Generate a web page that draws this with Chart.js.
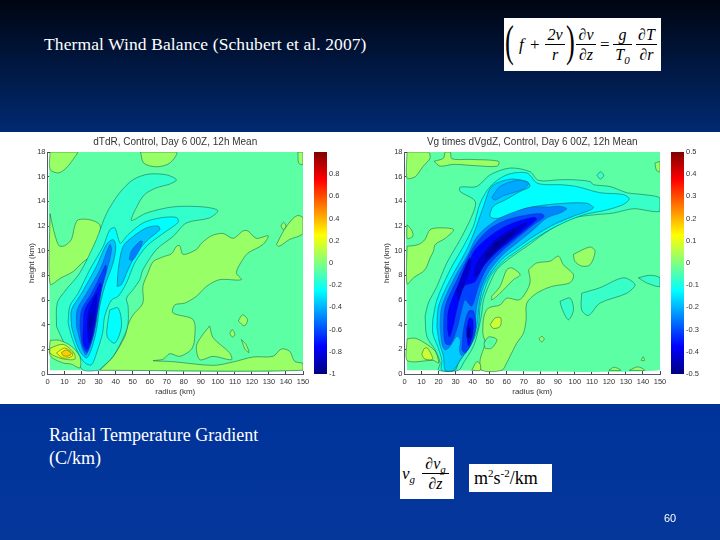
<!DOCTYPE html>
<html>
<head>
<meta charset="utf-8">
<script src="https://cdn.jsdelivr.net/npm/chart.js@4"></script>
<style>
html, body { margin: 0; padding: 0; }
body { width: 720px; height: 540px; position: relative; overflow: hidden;
  background: linear-gradient(#000511 0, #012a72 132px, #00339a 404px, #05379b 540px);
  font-family: "Liberation Serif", serif; color: #fff; }
.band { position: absolute; left: 0; top: 132px; width: 720px; height: 272px; background: #fff; }
canvas { position: absolute; }
.t { position: absolute; white-space: nowrap; font-size: 17.5px; line-height: 23px; }
.box { position: absolute; background: #fff; color: #000; overflow: hidden; }
.box span, .box div { position: absolute; white-space: nowrap; }
.frac { text-align: center; font-size: 16px; font-style: italic; line-height: 17px; }
.frac i { display: block; position: static; height: 1px; background: #000; margin: 1px 0; }
sub, sup { font-size: 11px; line-height: 0; }
</style>
</head>
<body>
<div class="band"></div>
<canvas id="leftMap" width="360" height="272" style="left:0;top:132px"></canvas>
<canvas id="leftBar" width="50" height="272" style="left:314px;top:132px"></canvas>
<canvas id="rightMap" width="360" height="272" style="left:360px;top:132px"></canvas>
<canvas id="rightBar" width="49" height="272" style="left:671px;top:132px"></canvas>

<div class="t" style="left:44px;top:33px;letter-spacing:.1px">Thermal Wind Balance (Schubert et al. 2007)</div>
<div class="t" style="left:49px;top:424px;font-size:18px">Radial Temperature Gradient<br>(C/km)</div>
<div class="t" style="left:664px;top:508px;font:11px 'Liberation Sans',sans-serif;line-height:20px">60</div>

<div class="box" style="left:504px;top:18px;width:157px;height:53px">
  <span style="left:1px;top:-1px;font-size:44px;line-height:50px;transform:scaleX(.6);transform-origin:left">(</span>
  <span style="left:15px;top:17px;font:italic 17px 'Liberation Serif'">f</span>
  <span style="left:26px;top:17px;font-size:17px">+</span>
  <div class="frac" style="left:41px;top:8px;width:20px">2<span style="position:static">v</span><i></i><span style="position:static">r</span></div>
  <span style="left:62px;top:-1px;font-size:44px;line-height:50px;transform:scaleX(.6);transform-origin:left">)</span>
  <div class="frac" style="left:72px;top:8px;width:20px">∂v<i></i>∂z</div>
  <span style="left:96px;top:17px;font-size:17px">=</span>
  <div class="frac" style="left:109px;top:8px;width:19px">g<i></i>T<sub>0</sub></div>
  <div class="frac" style="left:132px;top:8px;width:21px">∂T<i></i>∂r</div>
</div>

<div class="box" style="left:400px;top:447px;width:54px;height:52px">
  <span style="left:2px;top:17px;font:italic 17px 'Liberation Serif'">v<sub>g</sub></span>
  <div class="frac" style="left:22px;top:8px;width:27px">∂v<sub>g</sub><i></i>∂z</div>
</div>
<div class="box" style="left:469px;top:464px;width:83px;height:28px">
  <span style="left:5px;top:3px;font-size:18px;line-height:23px">m<sup>2</sup>s<sup>-2</sup>/km</span>
</div>

<script>
// axes
const radiusTicks = [0, 10, 20, 30, 40, 50, 60, 70, 80, 90, 100, 110, 120, 130, 140, 150];
const heightTicks = [0, 2, 4, 6, 8, 10, 12, 14, 16, 18];
const dataBox = [[1.5, 0.3], [150, 0.3], [150, 18], [1.5, 18]];

// left panel, dTdR: value of each filled contour, and its outline as [radius, height]
const leftLevels = [-0.07, 0.05, 0.05, 0.05, 0.05, 0.05, 0.05, 0.05, 0.05, 0.05, 0.05, 0.05,
  -0.15, -0.25, -0.25, -0.37, -0.37, -0.5, -0.5, -0.62, -0.72, -0.82, -0.9,
  0.05, 0.15, 0.25, 0.35];
const leftContours = [
  dataBox,
  [[1.5, 18], [17.4, 18], [15, 17.4], [11, 16.7], [6.3, 16.3], [1.5, 16.6]],
  [[54.6, 18], [56.5, 17.1], [64, 16.8], [71.8, 17.1], [75.7, 18]],
  [[147, 18], [147.5, 17.1], [150, 17], [150, 18]],
  [[1.5, 13], [3, 12], [4.5, 11.2], [6.8, 10.4], [10, 10.4], [14, 10.9], [16, 12], [18, 12.5], [25, 12.5], [30.7, 12.1], [30.5, 11.2], [27.8, 9.8], [21, 9.1], [15, 8.3], [8, 7.8], [1.5, 7.3]],
  [[30.7, 0.3], [38.5, 1.4], [45.4, 3.05], [47.3, 4], [50.3, 4.8], [56, 5.75], [56, 7.1], [59, 8.2], [62, 9.1], [67.9, 9.5], [72.8, 9.75], [75.7, 10.35], [77.6, 10.4], [79.6, 9.7], [87.4, 10.1], [90.4, 10.6], [96.2, 11.2], [103, 11.4], [109, 11], [114.8, 11.6], [117.7, 11.6], [122.6, 11], [129.5, 11.2], [126.5, 10.5], [117.7, 9.8], [113.8, 9.1], [110.9, 8.2], [113.8, 7.65], [101, 7.65], [93.3, 7.1], [87.4, 6.3], [80.6, 5.75], [74.7, 5.6], [73.7, 4.95], [85.5, 4.4], [86.4, 2.9], [84.5, 2], [77.6, 1.43], [71.8, 1.65], [67.9, 1.2], [62, 1.08], [73.7, 1], [97.2, 0.7], [108.9, 0.97], [120.7, 1.38], [132.4, 1.43], [137.3, 2.03], [142.2, 1.84], [145.1, 1.03], [150, 0.84], [150, 0.3]],
  [[95.2, 3.9], [90.4, 3.05], [87.4, 2.25], [89.4, 1.16], [97.2, 1.43], [108, 1.16], [107, 1.7], [97.2, 2.95]],
  [[112, 4.3], [114.5, 4.8], [117.5, 4.4], [115.5, 3.9]],
  [[107, 3.3], [108.5, 3.6], [110, 3.2], [108.5, 3]],
  [[113.8, 2.8], [116.5, 2.4], [118.3, 1.75], [116, 2]],
  [[134.4, 10.5], [139, 11.7], [144, 12.6], [147, 12.85], [150, 12.65], [150, 11.4], [142, 10.9], [136, 10.35]],
  [[137, 12], [138.5, 12.3], [140, 12], [138.5, 11.7]],
  [[5.3, 3.85], [5.7, 5.75], [11, 6.85], [19, 8.2], [28.7, 10.9], [34.6, 13], [42.4, 14.7], [50.2, 15.75], [59, 16.2], [69.8, 16.15], [75.7, 15.75], [71.8, 15.4], [64, 15.1], [57, 14.55], [52, 13.45], [49.3, 12.45], [58, 13.05], [73.7, 13.55], [91.3, 13.55], [100, 13.25], [95, 12.65], [81.6, 12.25], [73.7, 11.15], [64, 10.1], [56, 8.45], [54.2, 7.65], [50.3, 6.85], [46.4, 6.15], [47.3, 5.5], [47.3, 4.1], [45.4, 3.2], [38.5, 1.43], [31.7, 0.5], [29.7, 0.3], [21, 0.3], [18, 0.9], [15, 1.43], [10.2, 2.4]],
  [[12.1, 4.15], [13.1, 5.5], [18, 6.55], [24.8, 8.45], [32.7, 10.35], [36.6, 11.7], [39.5, 11.85], [41.5, 11], [42.8, 10.6], [47.3, 11.3], [56.1, 12.25], [65.9, 12.65], [75.7, 12.7], [76.7, 12.3], [67.9, 11.4], [58.1, 10.35], [51.2, 9], [46.4, 7.4], [41.5, 6.3], [37.6, 6], [33.6, 4.7], [32.3, 3.3], [28.8, 1.7], [25.8, 0.75], [21.9, 0.9], [18, 1.7], [14.1, 3.05]],
  [[36.6, 5.2], [41.5, 5.35], [43.4, 3.85], [39.5, 2.5], [35, 3.05], [35.6, 4.4]],
  [[14.1, 3.85], [14.1, 5.2], [20, 6.55], [28.8, 8.75], [34.6, 10.5], [38.5, 10.9], [40.1, 10.35], [38.5, 9], [33.6, 7.1], [30.7, 5.5], [28.8, 3.6], [25.8, 2], [22.9, 1.3], [19, 1.85], [16, 2.9]],
  [[40.9, 7.1], [41.5, 8.45], [44.4, 10.35], [50.3, 11.15], [58.1, 11.85], [64.9, 12], [65.9, 11.7], [59.1, 10.9], [52.2, 9.8], [47.3, 8.45], [43.4, 7.25]],
  [[17, 3.85], [17.4, 5.2], [22.9, 6.55], [30.7, 8.45], [36.6, 10.5], [37.6, 10.1], [35.6, 8.75], [31.7, 6.85], [29.7, 5.2], [27.8, 3.6], [24.8, 2.25], [22.5, 1.55], [20, 2.25]],
  [[47.9, 9.3], [49.3, 10], [54.2, 10.75], [55.7, 10.75], [54.2, 10.1], [49.9, 9.2]],
  [[19, 3.85], [20, 5.2], [25.8, 6.55], [32.7, 8.45], [34.2, 8.85], [34.6, 8.45], [31.7, 6.85], [28.8, 4.7], [26.8, 3.05], [23.3, 1.75], [20.5, 2.25]],
  [[20.9, 3.6], [21.9, 5.2], [27.8, 6.55], [30.7, 7.4], [31.7, 7.25], [29.7, 5.5], [26.8, 3.3], [23.3, 1.95], [20.9, 2.5]],
  [[23.3, 3.05], [23.9, 4.95], [28.8, 6.55], [29.1, 6], [27.8, 4.4], [24.8, 2.5]],
  [[23.9, 3.6], [24.8, 4.7], [26.4, 4.95], [25.8, 3.85]],
  [[1.5, 2.73], [7, 2.73], [14, 2.25], [19, 1.4], [19, 0.5], [14, 0.8], [9, 0.9], [1.5, 1.5]],
  [[1.5, 2.1], [9.2, 2.4], [15.5, 1.7], [16, 1.2], [10, 1.2], [4.3, 1.45], [1.5, 1.7]],
  [[5.3, 1.7], [10, 2.1], [14.7, 1.7], [14.1, 1.4], [9.2, 1.3]],
  [[8.2, 1.75], [11, 1.95], [14, 1.65], [12, 1.45], [9, 1.5]]
];

// right panel, Vg times dVgdZ
const rightLevels = [-0.035, 0.025, 0.025, 0.025, 0.025, 0.025, 0.025, 0.025, 0.025, 0.025, 0.075, -0.035, 0.025, 0.025, 0.075, 0.025, 0.025, 0.04,
  -0.07, -0.07, -0.07, -0.07, -0.07, -0.125, -0.175, -0.245, -0.21, -0.31, -0.31, -0.37, -0.37, -0.42, -0.42, -0.46, -0.49, -0.46];
const rightContours = [
  dataBox,
  [[1.5, 18], [14, 18], [15, 17.5], [11, 16.85], [6.3, 16], [1.5, 15.9]],
  [[17.4, 17.25], [22.9, 17.5], [23.9, 18], [26.8, 18], [27.8, 17.45], [38.5, 17.4], [55.2, 17.25], [54.5, 16.85], [40.5, 16.9], [28.8, 17], [20.9, 16.85]],
  [[147, 17.1], [150, 17.2], [150, 16.4], [148, 16.5]],
  [[1.5, 12.1], [4, 11.7], [5, 11.2], [3, 11], [1.5, 11]],
  [[1.5, 10.35], [8.2, 10.5], [12, 10.9], [15, 11.7], [20.9, 11.85], [28.8, 11.7], [23.9, 11], [18, 10.5], [17, 9.95], [15, 9.4], [12, 8.45], [5.3, 7.8], [1.5, 7.3]],
  [[99.2, 9.7], [108.9, 10.3], [111.9, 9.95], [108.9, 8.85], [104, 8.75], [100, 9.15]],
  [[72.8, 8.45], [77.6, 9], [85.5, 9.15], [90.4, 9.55], [93.3, 8.85], [99.2, 8.05], [97.2, 7.4], [86.4, 7.1], [77.6, 6.55], [71.8, 5.75], [71.4, 4.4], [69.8, 3.3], [65.9, 2.5], [62, 1.45], [60, 0.9], [57.1, 0.3], [45.4, 0.3], [44.4, 1.15], [47.3, 2.5], [46, 3.3], [46.7, 4.7], [49.3, 5.35], [56.1, 5.6], [60, 6.15], [66.9, 6], [69.8, 6.3], [73.7, 7.4]],
  [[51.2, 6.3], [56.1, 7.1], [60, 8.45], [63, 8.6], [67.9, 8.05], [64, 7.65], [56.1, 6.55], [51.2, 6]],
  [[79, 2.85], [80.5, 3.05], [82, 2.85], [80.5, 2.6]],
  [[50.3, 4], [53.2, 4.55], [56.5, 4.55], [56.1, 3.85], [52.2, 3.7]],
  [[46.7, 2.5], [49.3, 3], [54.2, 2.8], [51.2, 2.1], [47.3, 2.1]],
  [[1.5, 2.85], [6.3, 2.9], [12, 2.5], [18, 1.85], [20, 0.9], [17, 1.1], [1.5, 1.1]],
  [[120, 0.3], [123, 0.55], [127, 0.3]],
  [[10.2, 1.6], [11.5, 2.05], [13.5, 2.1], [16, 1.5], [16.6, 1.2], [14, 1.15], [11.5, 1.25]],
  [[132, 0.3], [137, 0.58], [141, 0.3]],
  [[139, 1.1], [140, 1.4], [141, 1.1]],
  [[39.5, 0.3], [42.4, 1], [44.4, 0.8], [44.4, 0.3]],
  [[12.1, 4.7], [14, 5.75], [19, 7.1], [24.8, 9], [32.7, 10.9], [39.5, 12.8], [41.5, 14], [32.7, 14.8], [32.7, 15.15], [42.4, 15.2], [50.3, 16.15], [62, 16.7], [73.7, 16.4], [78.6, 15.7], [91.3, 15.75], [99.2, 15.75], [109, 15.6], [110.9, 15.35], [120.7, 15.2], [130.5, 14.7], [140, 14.55], [150, 14.25], [150, 13.2], [134.4, 13.4], [122.6, 13.05], [110.9, 12.9], [99.2, 12.65], [85.5, 11.7], [71.8, 10.35], [62, 9.4], [54.2, 8.45], [49.3, 7.1], [46.4, 6], [45.4, 4.95], [43.4, 3.6], [40.5, 2.25], [34.6, 0.9], [31.7, 0.3], [20, 0.3], [20.9, 0.9], [18, 1.95], [13.1, 3.05]],
  [[104, 6.55], [114.8, 7], [128.5, 7.8], [135.3, 7.25], [130.5, 6.55], [114.8, 5.75], [108, 4.75], [104, 5.2]],
  [[91.3, 5.9], [97.2, 6.15], [99.2, 5.2], [96.2, 4.4], [92.3, 5.35]],
  [[137.3, 7.8], [144, 8], [150, 7.8], [150, 7.1], [142, 7.4]],
  [[113, 16.1], [115, 16.4], [117, 16.1], [115, 15.8]],
  [[16.6, 4.4], [19, 6], [26.8, 8.45], [34.6, 10.35], [40.5, 12], [44.4, 13.85], [50.3, 15.2], [60, 16.15], [71.8, 16.3], [77.6, 15.5], [83.5, 15.35], [91.3, 15.35], [101, 15.2], [114.8, 14.7], [128.5, 14.55], [132, 14.2], [128.5, 13.75], [118.7, 13.3], [105, 12.9], [89.4, 12], [75.7, 10.9], [65.9, 9.95], [58, 9.15], [50.3, 7.9], [46.4, 6.55], [44.4, 5.5], [43.4, 3.85], [39.5, 2.5], [31.7, 0.9], [29.7, 0.3], [21.9, 0.3], [21.9, 1.15], [19.4, 2.25], [16.6, 3.3]],
  [[19, 3.85], [20, 5.5], [26.8, 7.65], [36.6, 10.1], [41.5, 11.7], [46.4, 13.6], [51.2, 15.2], [62, 15.8], [71.8, 15.6], [73.7, 15.2], [67.9, 14.8], [59, 14.1], [52.2, 13.6], [50.3, 12.75], [56, 12.65], [71.6, 13.45], [89.4, 13.8], [107, 13.85], [110.9, 13.45], [99.2, 12.8], [87.4, 12.1], [75.7, 11.15], [65.9, 10.2], [58, 9.4], [51.2, 8.3], [46.4, 7.1], [44, 5.75], [42.4, 3.85], [38.5, 2.25], [32.7, 1.15], [28.8, 0.3], [23.9, 0.3], [22.9, 1.45], [20.5, 2.5]],
  [[20.9, 3.85], [21.9, 5.5], [29.7, 7.9], [37.6, 9.8], [41.5, 10.9], [46.4, 11.7], [56, 12.65], [67.9, 13.3], [75.7, 13.55], [85.5, 13.55], [91.3, 13.6], [95.2, 13.4], [91.3, 13.05], [83.5, 12.65], [75.7, 11.7], [65.9, 10.6], [58, 9.7], [50.3, 8.45], [45.4, 7.1], [42.4, 5.5], [40.9, 3.6], [36.6, 1.95], [33.5, 1.5], [32.3, 1.95], [32.7, 2.8], [30.7, 3.05], [26.8, 2.25], [23.9, 1.95], [21.9, 2.5]],
  [[51.2, 14.3], [56, 15.2], [66, 15.7], [72.8, 15.5], [70, 15], [58, 14.45], [53, 14.1]],
  [[22.9, 3.6], [23.9, 5.5], [31.7, 7.9], [37.6, 9.55], [41.5, 10.5], [49.3, 11.7], [60, 12.5], [71.8, 12.9], [80.6, 13], [82, 12.75], [75.7, 12.1], [65.9, 11], [56, 9.8], [48.3, 8.6], [43.4, 7.1], [39.5, 5.5], [35.6, 6], [33.6, 5.2], [30.7, 3.6], [26.8, 2.4], [23.9, 2.5]],
  [[33.6, 1.95], [34.6, 3.6], [37.6, 5.1], [40.5, 5.1], [42, 3.85], [39.5, 2.5], [35.6, 1.7]],
  [[25.2, 3.6], [25.8, 5.2], [32.7, 7.65], [37.6, 9], [41.5, 10.1], [52.2, 11.4], [62, 12.15], [75.7, 12.7], [77.6, 12.55], [67.9, 11.4], [56, 10.1], [46.4, 8.75], [41.5, 7.5], [35, 7.1], [30.7, 5.2], [28.8, 4], [26.4, 3]],
  [[36.2, 3.6], [38.1, 4.55], [40.1, 4.4], [40.1, 3.3], [37.6, 2.25]],
  [[40.5, 7.9], [42.4, 9], [52.2, 10.75], [62, 11.7], [71.8, 12.25], [69.8, 11.85], [58, 10.5], [48.3, 9.15], [42.4, 7.9]],
  [[30.7, 6.85], [35.6, 8.7], [38.5, 9.4], [38.5, 8.45], [34.6, 7.1], [31.7, 6]],
  [[47.3, 9.7], [56, 10.9], [65, 11.7], [64, 11.3], [54.2, 10.1], [48.3, 9.3]],
  [[51.2, 10.5], [55.2, 10.75], [54.2, 10.35]],
  [[36.5, 3], [37.5, 3.8], [38.8, 3.7], [38.3, 2.9]]
];

const leftTicks = [-1, -0.8, -0.6, -0.4, -0.2, 0, 0.2, 0.4, 0.6, 0.8];
const rightTicks = [-0.5, -0.4, -0.3, -0.2, -0.1, 0, 0.1, 0.2, 0.3, 0.4, 0.5];

const jetStops = [[0, 0, 0, 128], [0.125, 0, 0, 255], [0.375, 0, 255, 255], [0.5, 128, 255, 128], [0.625, 255, 255, 0], [0.875, 255, 0, 0], [1, 128, 0, 0]];
function jet(t) {
  for (let i = 1; i < jetStops.length; i++) {
    const a = jetStops[i - 1], b = jetStops[i];
    if (t <= b[0]) {
      const k = (t - a[0]) / (b[0] - a[0]);
      return 'rgb(' + [1, 2, 3].map(j => Math.round(a[j] + (b[j] - a[j]) * k)).join(',') + ')';
    }
  }
  return 'rgb(128,0,0)';
}

const axisInk = '#333';
const sans = 'Liberation Sans';

// lines go faint in the deep core, as in the blurred original
function lineInk(t) {
  return t < 0.3 ? 'rgba(0,30,90,.45)' : 'rgba(20,85,70,.85)';
}

function mapChart(id, title, levels, contours, range, yTitleLeft, yWidth) {
  const n = contours.length;
  const datasets = contours.map((pts, i) => {
    const t = levels[i] / range / 2 + 0.5;
    return {
      data: pts.concat([pts[0]]).map(p => ({ x: p[0], y: p[1] })),
      showLine: true,
      fill: 'shape',
      backgroundColor: jet(t),
      borderColor: i === 0 ? 'transparent' : lineInk(t),
      borderWidth: 0.6,
      pointRadius: 0,
      tension: 0.3,
      order: n - i
    };
  });
  new Chart(document.getElementById(id), {
    type: 'scatter',
    data: { datasets },
    options: {
      responsive: false,
      animation: false,
      events: [],
      layout: { padding: { right: 360 - yTitleLeft - yWidth - 255.5, top: 0, bottom: 7, left: yTitleLeft } },
      plugins: {
        legend: { display: false },
        tooltip: { enabled: false },
        title: { display: true, text: title, fullSize: false, color: axisInk, font: { family: sans, size: 10, weight: 'normal' }, padding: { top: 4, bottom: 4 } }
      },
      scales: {
        x: {
          type: 'linear', min: 0, max: 150,
          afterBuildTicks: s => { s.ticks = radiusTicks.map(v => ({ value: v })); },
          afterFit: s => { s.height = 23; },
          grid: { drawOnChartArea: false, tickLength: -3, color: '#445' },
          border: { color: '#556' },
          ticks: { autoSkip: false, maxRotation: 0, padding: 6, color: axisInk, font: { family: sans, size: 7.5 } },
          title: { display: true, text: 'radius (km)', color: axisInk, padding: 0, font: { family: sans, size: 8 } }
        },
        y: {
          type: 'linear', min: 0, max: 18,
          afterBuildTicks: s => { s.ticks = heightTicks.map(v => ({ value: v })); },
          afterFit: s => { s.width = yWidth; },
          grid: { drawOnChartArea: false, tickLength: -3, color: '#445' },
          border: { color: '#556' },
          ticks: { autoSkip: false, padding: 5, color: axisInk, font: { family: sans, size: 7.5 } },
          title: { display: true, text: 'height (km)', color: axisInk, padding: 0, font: { family: sans, size: 8 } }
        }
      }
    }
  });
}

function barChart(id, ticks, range) {
  new Chart(document.getElementById(id), {
    type: 'bar',
    data: {
      labels: [''],
      datasets: [{
        data: [[-range, range]],
        barPercentage: 1,
        categoryPercentage: 1,
        backgroundColor: c => {
          const a = c.chart.chartArea;
          if (!a) return '#888';
          const g = c.chart.ctx.createLinearGradient(0, a.bottom, 0, a.top);
          jetStops.forEach(s => g.addColorStop(s[0], jet(s[0])));
          return g;
        }
      }]
    },
    options: {
      responsive: false,
      animation: false,
      events: [],
      layout: { padding: { top: 20, bottom: 30 } },
      plugins: { legend: { display: false }, tooltip: { enabled: false } },
      scales: {
        x: { display: false },
        y: {
          position: 'right', min: -range, max: range,
          afterBuildTicks: s => { s.ticks = ticks.map(v => ({ value: v })); },
          afterFit: s => { s.width = s.chart.width - 13; },
          grid: { drawOnChartArea: false, drawTicks: false },
          border: { display: false },
          ticks: { padding: 2, color: axisInk, font: { family: sans, size: 7.5 }, callback: v => String(+v.toFixed(1)) }
        }
      }
    }
  });
}

mapChart('leftMap', 'dTdR, Control, Day 6 00Z, 12h Mean', leftLevels, leftContours, 1, 27, 20.5);
barChart('leftBar', leftTicks, 1);
mapChart('rightMap', 'Vg times dVgdZ, Control, Day 6 00Z, 12h Mean', rightLevels, rightContours, 0.5, 22, 22.5);
barChart('rightBar', rightTicks, 0.5);
</script>
</body>
</html>
